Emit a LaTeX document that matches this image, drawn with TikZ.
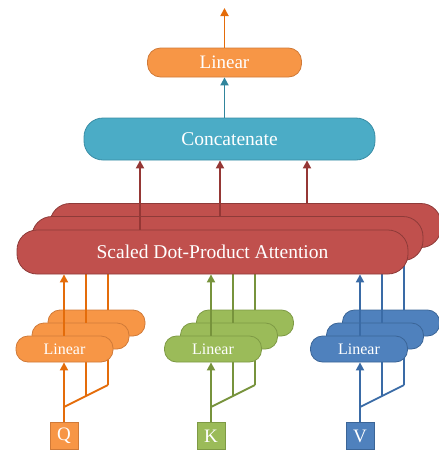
\documentclass[tikz,border=0pt]{standalone}
\usepackage{fontspec}
\setmainfont{Liberation Serif}
\usetikzlibrary{arrows.meta,calc}

\definecolor{qF}{HTML}{F79646}
\definecolor{qD}{HTML}{D07A38}
\definecolor{qL}{HTML}{E46C0A}
\definecolor{kF}{HTML}{9BBB59}
\definecolor{kD}{HTML}{7E9A45}
\definecolor{kL}{HTML}{77933C}
\definecolor{vF}{HTML}{4F81BD}
\definecolor{vD}{HTML}{3B6597}
\definecolor{vL}{HTML}{3A6BA6}
\definecolor{aF}{HTML}{C0504D}
\definecolor{aD}{HTML}{8E3B39}
\definecolor{aL}{HTML}{953735}
\definecolor{cF}{HTML}{4BACC6}
\definecolor{cD}{HTML}{3A8DA5}
\definecolor{cL}{HTML}{31859C}

% stacking levels: back boxes, their links, middle boxes, their links, front boxes, front links
\pgfdeclarelayer{b3}
\pgfdeclarelayer{e3}
\pgfdeclarelayer{b2}
\pgfdeclarelayer{e2}
\pgfdeclarelayer{b1}
\pgfsetlayers{b3,e3,b2,e2,b1,main}

\begin{document}
\begin{tikzpicture}[x=1pt,y=-1pt,
  conn/.style={line width=1.8pt},
  arr/.style={conn,-{Triangle[width=8pt,length=8pt]}},
  pill/.style={draw,line width=0.8pt,text=white,inner sep=0pt},
  smallbox/.style={pill,minimum width=97pt,minimum height=26pt,rounded corners=12pt,
    font=\fontsize{16}{16}\selectfont},
  attbox/.style={pill,fill=aF,draw=aD,minimum width=391pt,minimum height=44pt,
    rounded corners=20pt,font=\fontsize{19.5}{20}\selectfont},
  inbox/.style={pill,minimum width=28pt,minimum height=27pt,
    font=\fontsize{19}{19}\selectfont}]
\useasboundingbox (0,0) rectangle (439,453);

% output head
\node[pill,fill=qF,draw=qD,minimum width=154pt,minimum height=29pt,rounded corners=13pt,
  font=\fontsize{19}{19}\selectfont] (lin) at (224.5,62.5) {Linear};
\coordinate (out) at (224.5,8);
\draw[arr,qL] (lin.north) -- (out);

\node[pill,fill=cF,draw=cD,minimum width=291pt,minimum height=42pt,rounded corners=19pt,
  font=\fontsize{19.5}{20}\selectfont] (cat) at (229.5,139) {Concatenate};
\draw[arr,cL] (lin.south |- cat.north) -- (lin.south);

% attention heads
\begin{pgfonlayer}{b3}
  \node[attbox] (att3) at (245.5,225.5) {};
\end{pgfonlayer}
\begin{pgfonlayer}{b2}
  \node[attbox] (att2) at (227.5,238.5) {};
\end{pgfonlayer}
\begin{pgfonlayer}{b1}
  \node[attbox] (att1) at (212.5,252) {Scaled Dot-Product Attention};
\end{pgfonlayer}

\coordinate (cx1) at (140,0);
\coordinate (cx2) at (220,0);
\coordinate (cx3) at (307,0);
\begin{pgfonlayer}{e3}
  \draw[arr,aL] (cx3 |- att3.north) -- (cx3 |- cat.south);
\end{pgfonlayer}
\begin{pgfonlayer}{e2}
  \draw[arr,aL] (cx2 |- att2.north) -- (cx2 |- cat.south);
\end{pgfonlayer}
\draw[arr,aL] (cx1 |- att1.north) -- (cx1 |- cat.south);

% linear projections of Q, K and V
\foreach \nm/\cx/\lx/\lab in {q/64.5/64/Q, k/213/211/K, v/359/360/V}{
  \coordinate (\nm x1) at (\lx,0);
  \coordinate (\nm x2) at (\lx+22,0);
  \coordinate (\nm x3) at (\lx+44,0);
  \coordinate (\nm j1) at (\lx,407);
  \coordinate (\nm j3) at (\lx+44,385);
  \coordinate (\nm j2) at ($(\nm j1)!0.5!(\nm j3)$);
  \node[inbox,fill=\nm F,draw=\nm D] (\nm in) at (\lx,436) {\lab};
  \begin{pgfonlayer}{b3}
    \node[smallbox,fill=\nm F,draw=\nm D] (\nm 3) at (\cx+32,323) {};
  \end{pgfonlayer}
  \begin{pgfonlayer}{b2}
    \node[smallbox,fill=\nm F,draw=\nm D] (\nm 2) at (\cx+16,336) {};
  \end{pgfonlayer}
  \begin{pgfonlayer}{b1}
    \node[smallbox,fill=\nm F,draw=\nm D] (\nm 1) at (\cx,349) {Linear};
  \end{pgfonlayer}
  \begin{pgfonlayer}{e3}
    \draw[conn,\nm L] (\nm j1) -- (\nm j3);
    \draw[arr,\nm L] (\nm j3) -- (\nm x3 |- \nm 3.south);
    \draw[arr,\nm L] (\nm x3 |- \nm 3.north) -- (\nm x3 |- att3.south);
  \end{pgfonlayer}
  \begin{pgfonlayer}{e2}
    \draw[arr,\nm L] (\nm j2) -- (\nm x2 |- \nm 2.south);
    \draw[arr,\nm L] (\nm x2 |- \nm 2.north) -- (\nm x2 |- att2.south);
  \end{pgfonlayer}
  \draw[conn,\nm L] (\nm in.north) -- (\nm j1);
  \draw[arr,\nm L] (\nm j1) -- (\nm x1 |- \nm 1.south);
  \draw[arr,\nm L] (\nm x1 |- \nm 1.north) -- (\nm x1 |- att1.south);
}
\end{tikzpicture}
\end{document}
